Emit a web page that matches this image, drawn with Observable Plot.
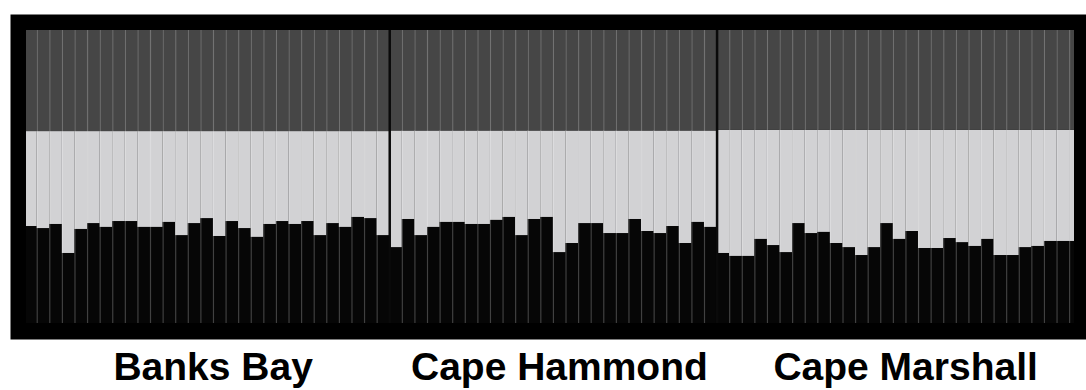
<!DOCTYPE html>
<html>
<head>
<meta charset="utf-8">
<script src="https://cdn.jsdelivr.net/npm/d3@7"></script>
<script src="https://cdn.jsdelivr.net/npm/@observablehq/plot@0.6"></script>
<style>
  html, body { margin: 0; padding: 0; background: #fff; }
  #chart svg { display: block; }
</style>
</head>
<body>
<div id="chart"></div>
<script>
// Populations (left to right) and number of individuals in each
const populations = ["Banks Bay", "Cape Hammond", "Cape Marshall"];
const groupSizes = [29, 26, 29];

// Cluster names in stacking order (bottom -> top)
const clusters = ["Cluster A", "Cluster B", "Cluster C"];
const clusterColors = ["#060606", "#d2d2d4", "#464646"];

// Membership proportions per individual: bottom (black) cluster
const banksA = [0.331,0.324,0.338,0.239,0.321,0.341,0.328,0.348,0.348,0.328,0.328,0.345,0.300,0.341,0.358,0.297,0.348,0.324,0.294,0.338,0.348,0.338,0.348,0.300,0.341,0.328,0.362,0.358,0.300];
const hammondA = [0.259,0.355,0.300,0.328,0.345,0.345,0.338,0.338,0.352,0.362,0.300,0.355,0.362,0.242,0.273,0.341,0.341,0.307,0.307,0.355,0.314,0.307,0.331,0.273,0.345,0.328];
const marshallA = [0.239,0.229,0.229,0.287,0.266,0.242,0.341,0.307,0.311,0.273,0.259,0.232,0.259,0.341,0.287,0.314,0.256,0.256,0.290,0.276,0.263,0.287,0.232,0.232,0.259,0.263,0.280,0.280,0.280];

// Middle (light grey) cluster
const banksB = [0.324,0.331,0.317,0.416,0.334,0.314,0.327,0.307,0.307,0.327,0.327,0.310,0.355,0.314,0.297,0.358,0.307,0.331,0.361,0.317,0.307,0.317,0.307,0.355,0.314,0.327,0.293,0.297,0.355];
const hammondB = [0.398,0.302,0.357,0.329,0.312,0.312,0.319,0.319,0.305,0.295,0.357,0.302,0.295,0.415,0.384,0.316,0.316,0.350,0.350,0.302,0.343,0.350,0.326,0.384,0.312,0.329];
const marshallB = [0.420,0.430,0.430,0.372,0.393,0.417,0.318,0.352,0.348,0.386,0.400,0.427,0.400,0.318,0.372,0.345,0.403,0.403,0.369,0.383,0.396,0.372,0.427,0.427,0.400,0.396,0.379,0.379,0.379];

// Top (dark grey) cluster
const banksC = [0.345,0.345,0.345,0.345,0.345,0.345,0.345,0.345,0.345,0.345,0.345,0.345,0.345,0.345,0.345,0.345,0.345,0.345,0.345,0.345,0.345,0.345,0.345,0.345,0.345,0.345,0.345,0.345,0.345];
const hammondC = [0.343,0.343,0.343,0.343,0.343,0.343,0.343,0.343,0.343,0.343,0.343,0.343,0.343,0.343,0.343,0.343,0.343,0.343,0.343,0.343,0.343,0.343,0.343,0.343,0.343,0.343];
const marshallC = [0.341,0.341,0.341,0.341,0.341,0.341,0.341,0.341,0.341,0.341,0.341,0.341,0.341,0.341,0.341,0.341,0.341,0.341,0.341,0.341,0.341,0.341,0.341,0.341,0.341,0.341,0.341,0.341,0.341];

const seriesByPop = [
  [banksA, banksB, banksC],
  [hammondA, hammondB, hammondC],
  [marshallA, marshallB, marshallC]
];

// Build long table
const rows = [];
const popStarts = [];
const popLabels = [];
let offset = 0;
populations.forEach((pop, p) => {
  popStarts.push(offset);
  popLabels.push({name: pop, mid: offset + groupSizes[p] / 2});
  for (let j = 0; j < groupSizes[p]; j++) {
    clusters.forEach((c, k) => {
      rows.push({i: offset + j, pop, cluster: c, q: seriesByPop[p][k][j]});
    });
  }
  offset += groupSizes[p];
});
const total = offset;
const boundaries = d3.range(1, total);
const dividers = popStarts.slice(1);

const chart = Plot.plot({
  width: 1086,
  height: 390,
  marginLeft: 26,
  marginRight: 12,
  marginTop: 30,
  marginBottom: 67,
  x: {type: "linear", domain: [0, total], range: [24.1, 1081.7], axis: null},
  y: {domain: [0, 1], axis: null},
  color: {domain: clusters, range: clusterColors},
  style: {background: "transparent"},
  marks: [
    Plot.frame({fill: "#000", stroke: "none", insetLeft: -16, insetTop: -16, insetRight: -12, insetBottom: -16}),
    Plot.rectY(rows, {x1: "i", x2: d => d.i + 1, y: "q", fill: "cluster", order: clusters, clip: true}),
    Plot.ruleX(boundaries, {stroke: "#ffffff", strokeOpacity: 0.24, strokeWidth: 1.2}),
    Plot.ruleX(dividers, {stroke: "#0a0a0a", strokeWidth: 2.5}),
    Plot.text(popLabels, {x: "mid", text: "name", frameAnchor: "bottom", dy: 44, dx: 6, lineAnchor: "middle",
      fontSize: 39, fontWeight: "bold", fontFamily: "'Liberation Sans', Arial, sans-serif", fill: "#000"})
  ]
});
document.getElementById("chart").appendChild(chart);
</script>
</body>
</html>
